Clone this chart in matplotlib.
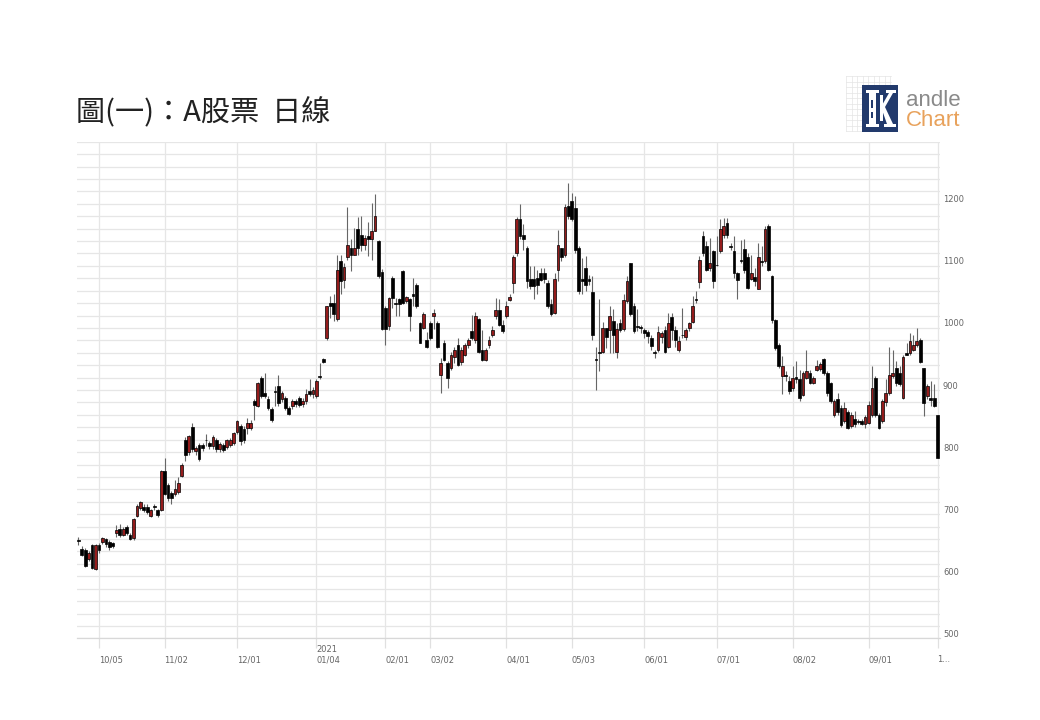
import matplotlib
matplotlib.use("Agg")
import matplotlib.pyplot as plt
import matplotlib.transforms as mtransforms
from matplotlib.patches import Rectangle, Polygon
import numpy as np

# daily OHLC, one value per trading day (2020/09 - 2021/10)
opens = [
    658, 644, 643, 628, 651, 612, 650, 655, 660, 656,
    653, 669, 676, 667, 679, 667, 661, 697, 710, 712,
    711, 697, 713, 706, 707, 769, 747, 734, 733, 735,
    762, 819, 801, 840, 802, 811, 812, 820, 815, 810,
    819, 805, 812, 808, 812, 814, 833, 842, 838, 839,
    839, 882, 874, 919, 895, 886, 869, 898, 906, 885,
    887, 871, 874, 882, 887, 877, 882, 898, 894, 890,
    922, 950, 984, 1040, 1040, 1014, 1108, 1078, 1114, 1129,
    1118, 1159, 1150, 1134, 1148, 1143, 1156, 1140, 1090, 1032,
    1003, 1081, 1040, 1046, 1091, 1044, 1046, 1054, 1070, 1008,
    1000, 981, 1008, 1019, 1008, 925, 976, 944, 936, 954,
    973, 945, 957, 972, 995, 981, 1014, 965, 949, 973,
    989, 1019, 1029, 1004, 1019, 1045, 1072, 1120, 1175, 1149,
    1129, 1079, 1079, 1081, 1088, 1089, 1073, 1039, 1024, 1094,
    1129, 1118, 1197, 1204, 1194, 1129, 1079, 1097, 1079, 1058,
    950, 962, 962, 1000, 996, 1012, 962, 1008, 998, 1043,
    1104, 1035, 1003, 1000, 997, 993, 984, 962, 965, 985,
    996, 970, 1018, 997, 964, 988, 985, 1000, 1009, 1045,
    1074, 1148, 1132, 1097, 1124, 1102, 1124, 1149, 1169, 1132,
    1124, 1089, 1110, 1127, 1115, 1079, 1082, 1063, 1108, 1108,
    1165, 1083, 1013, 973, 923, 925, 914, 903, 921, 918,
    892, 919, 927, 912, 932, 934, 950, 927, 911, 860,
    885, 871, 850, 864, 842, 853, 850, 850, 846, 847,
    860, 919, 860, 850, 880, 895, 922, 936, 927, 887,
    960, 960, 965, 973, 980, 936, 890, 887, 887, 860,
]
highs = [
    663, 649, 645, 640, 652, 652, 653, 663, 662, 658,
    656, 682, 685, 680, 683, 670, 694, 716, 722, 716,
    717, 708, 716, 709, 771, 790, 750, 738, 755, 760,
    782, 825, 828, 847, 810, 815, 815, 830, 818, 827,
    822, 816, 815, 821, 822, 833, 852, 845, 842, 855,
    852, 885, 913, 923, 927, 890, 872, 906, 924, 898,
    890, 874, 885, 886, 890, 888, 902, 917, 905, 917,
    944, 952, 1036, 1051, 1054, 1118, 1118, 1105, 1195, 1143,
    1161, 1178, 1180, 1150, 1170, 1202, 1215, 1142, 1095, 1035,
    1050, 1083, 1048, 1048, 1094, 1052, 1048, 1081, 1072, 1010,
    1025, 994, 1011, 1030, 1011, 952, 981, 946, 962, 970,
    984, 970, 975, 984, 1021, 1025, 1016, 997, 968, 987,
    1003, 1048, 1046, 1013, 1043, 1054, 1118, 1178, 1199, 1167,
    1132, 1099, 1099, 1094, 1097, 1097, 1078, 1046, 1089, 1158,
    1129, 1199, 1234, 1218, 1212, 1132, 1113, 1116, 1085, 1083,
    970, 1046, 1010, 1000, 1035, 1030, 1008, 1015, 1054, 1083,
    1105, 1040, 1030, 1005, 1000, 997, 989, 965, 1003, 995,
    1003, 1024, 1024, 1003, 987, 1032, 1000, 1010, 1051, 1060,
    1116, 1156, 1140, 1145, 1126, 1148, 1175, 1177, 1177, 1137,
    1148, 1090, 1142, 1143, 1121, 1118, 1097, 1137, 1132, 1164,
    1168, 1086, 1014, 976, 955, 930, 922, 938, 946, 933,
    930, 965, 933, 922, 949, 945, 952, 930, 913, 885,
    895, 876, 881, 868, 865, 867, 853, 853, 860, 882,
    938, 922, 863, 885, 917, 970, 965, 946, 938, 957,
    976, 992, 988, 1000, 984, 936, 909, 914, 909, 860,
]
lows = [
    651, 632, 615, 625, 611, 610, 638, 652, 648, 643,
    645, 664, 663, 665, 667, 658, 659, 695, 707, 704,
    700, 695, 707, 696, 705, 731, 722, 717, 730, 733,
    760, 785, 796, 800, 795, 785, 802, 810, 805, 805,
    800, 800, 801, 805, 809, 811, 830, 812, 815, 830,
    835, 852, 872, 888, 888, 868, 848, 874, 874, 880,
    868, 860, 870, 872, 872, 873, 878, 890, 888, 888,
    917, 943, 981, 1016, 1011, 1011, 1054, 1065, 1110, 1091,
    1118, 1118, 1124, 1125, 1116, 1110, 1156, 1080, 996, 973,
    997, 1032, 1019, 1019, 1038, 1040, 995, 1035, 1032, 976,
    998, 968, 981, 998, 968, 895, 946, 903, 933, 943,
    938, 941, 955, 968, 981, 976, 960, 946, 946, 968,
    986, 1014, 1003, 992, 1016, 1043, 1057, 1116, 1143, 1126,
    1065, 1062, 1046, 1054, 1075, 1073, 1032, 1019, 1022, 1075,
    1108, 1115, 1175, 1172, 1121, 1054, 1054, 1060, 1070, 981,
    900, 930, 960, 968, 960, 960, 952, 993, 995, 1040,
    1019, 992, 995, 992, 984, 976, 965, 952, 962, 975,
    960, 968, 981, 970, 962, 984, 981, 995, 1008, 1040,
    1065, 1116, 1091, 1091, 1065, 1099, 1121, 1145, 1145, 1126,
    1081, 1046, 1104, 1089, 1062, 1078, 1067, 1062, 1100, 1105,
    1091, 1008, 965, 935, 893, 915, 893, 899, 911, 882,
    890, 917, 910, 910, 930, 930, 925, 890, 879, 857,
    860, 841, 847, 837, 839, 840, 846, 843, 839, 846,
    857, 857, 837, 847, 874, 892, 920, 906, 906, 885,
    957, 957, 963, 970, 944, 858, 885, 875, 872, 790,
]
closes = [
    657, 635, 617, 637, 613, 650, 643, 661, 652, 648,
    649, 675, 667, 677, 669, 660, 693, 714, 720, 706,
    704, 706, 712, 699, 769, 733, 726, 726, 740, 750,
    780, 796, 826, 805, 806, 789, 807, 819, 810, 825,
    805, 813, 804, 819, 820, 831, 850, 818, 820, 847,
    847, 876, 911, 891, 890, 871, 852, 897, 879, 895,
    871, 862, 882, 877, 876, 882, 894, 894, 900, 914,
    921, 945, 1035, 1035, 1022, 1094, 1075, 1098, 1134, 1118,
    1129, 1129, 1134, 1145, 1143, 1156, 1180, 1083, 999, 999,
    1048, 1048, 1038, 1039, 1040, 1050, 1019, 1052, 1035, 976,
    1023, 970, 984, 1024, 970, 944, 949, 920, 957, 965,
    941, 964, 972, 980, 984, 1019, 962, 949, 965, 980,
    996, 1029, 1004, 995, 1035, 1050, 1115, 1175, 1148, 1144,
    1075, 1068, 1068, 1070, 1078, 1079, 1035, 1023, 1079, 1134,
    1115, 1195, 1180, 1175, 1125, 1059, 1075, 1070, 1075, 989,
    948, 960, 1000, 985, 1019, 989, 998, 997, 1045, 1075,
    1023, 995, 1001, 1000, 992, 987, 971, 959, 993, 992,
    962, 1008, 997, 981, 979, 988, 997, 1008, 1035, 1045,
    1109, 1121, 1094, 1105, 1075, 1101, 1160, 1164, 1149, 1131,
    1089, 1078, 1108, 1094, 1065, 1088, 1075, 1115, 1107, 1160,
    1094, 1013, 968, 938, 938, 922, 898, 919, 917, 887,
    927, 930, 912, 919, 938, 942, 927, 895, 882, 882,
    864, 844, 871, 839, 860, 846, 849, 846, 856, 876,
    903, 860, 839, 882, 895, 925, 927, 911, 909, 954,
    957, 979, 972, 979, 945, 879, 906, 884, 874, 790,
]

# x-axis ticks (candle index of the first trading day shown for each month)
tick_pos = [6, 25, 46, 69, 89, 102, 124, 143, 164, 185, 207, 229, 249]
tick_labels = ["10/05", "11/02", "12/01", "01/04", "02/01", "03/02", "04/01",
               "05/03", "06/01", "07/01", "08/02", "09/01", "1..."]
year_label = "2021"
year_tick = 69
y_labels = [500, 600, 700, 800, 900, 1000, 1100, 1200]

title = "圖(一)：A股票  日線"

W, H = 1040, 720


def P(x, y):
    # pixel position -> figure fraction
    return x / W, 1 - y / H


def draw_logo(fig):
    # faint grid behind the logo
    for gx in np.arange(846, 891, 5.5):
        fig.add_artist(plt.Line2D([gx / W, gx / W], [1 - 76 / H, 1 - 131 / H],
                                  transform=fig.transFigure, color="#e4e4e4", lw=0.5, zorder=1))
    for gy in np.arange(76, 132, 5.5):
        fig.add_artist(plt.Line2D([846 / W, 891 / W], [1 - gy / H, 1 - gy / H],
                                  transform=fig.transFigure, color="#e4e4e4", lw=0.5, zorder=1))

    navy = "#223a6c"
    fig.add_artist(Rectangle(P(862, 132), 36 / W, 47 / H, transform=fig.transFigure,
                             facecolor=navy, edgecolor="none", zorder=5))
    # white K: stem with serifs and two arms
    kw = dict(closed=True, transform=fig.transFigure, facecolor="white", edgecolor="none", zorder=6)
    fig.add_artist(Polygon([P(866, 90), P(879, 90), P(879, 93), P(876, 93), P(876, 124),
                            P(879, 124), P(879, 127), P(866, 127), P(866, 124), P(869, 124),
                            P(869, 93), P(866, 93)], **kw))
    fig.add_artist(Polygon([P(881, 107), P(889, 93), P(886, 93), P(886, 90), P(896, 90),
                            P(896, 93), P(893, 93), P(885, 107)], **kw))
    fig.add_artist(Polygon([P(881, 107), P(885, 107), P(893, 124), P(896, 124), P(896, 127),
                            P(884, 127), P(884, 124), P(887, 124)], **kw))
    fig.add_artist(Rectangle(P(880, 121), 3 / W, 26 / H, transform=fig.transFigure,
                             facecolor="white", edgecolor="none", zorder=6))
    # tiny candles inside the K
    for cx, top, bot in [(872, 100, 108), (872, 112, 118)]:
        fig.add_artist(Rectangle(P(cx - 1, bot), 2 / W, (bot - top) / H, transform=fig.transFigure,
                                 facecolor=navy, edgecolor="none", zorder=7))

    fig.text(906 / W, 1 - 105.5 / H, "andle", fontsize=16, color="#8a8a8a",
             family="Liberation Sans", ha="left", va="baseline")
    fig.text(906 / W, 1 - 125.5 / H, "Chart", fontsize=16, color="#e8a25c",
             family="Liberation Sans", ha="left", va="baseline")


def main():
    o = np.array(opens, dtype=float)
    h = np.array(highs, dtype=float)
    l = np.array(lows, dtype=float)
    c = np.array(closes, dtype=float)
    x = np.arange(len(o))

    fig = plt.figure(figsize=(W / 100, H / 100), dpi=100)
    ax = fig.add_axes([77 / W, 1 - 638.4 / H, 863 / W, 496.7 / H])

    # grid
    for v in range(500, 1301, 20):
        ax.axhline(v, color="#e6e6e6", lw=0.9, zorder=0)
    for t in tick_pos:
        ax.axvline(t, color="#e6e6e6", lw=0.9, zorder=0)

    # candles
    up = c > o
    down = ~up
    width = 0.8
    ax.vlines(x, l, h, color="#666666", lw=0.8, zorder=2)
    body_lo = np.minimum(o, c)
    body_h = np.maximum(np.abs(c - o), 0.9)
    ax.bar(x[up], body_h[up], bottom=body_lo[up], width=width, color="#951c1c",
           edgecolor="black", linewidth=0.5, zorder=3)
    ax.bar(x[down], body_h[down], bottom=body_lo[down], width=width, color="black",
           edgecolor="black", linewidth=0.5, zorder=3)

    ax.set_xlim(-0.38, 249.7)
    ax.set_ylim(500, 1300)

    for s in ["top", "right", "left"]:
        ax.spines[s].set_visible(False)
    ax.spines["bottom"].set_color("#d8d8d8")
    ax.spines["bottom"].set_linewidth(0.9)

    ax.set_yticks([])
    ax.set_xticks(tick_pos)
    ax.set_xticklabels([])
    ax.tick_params(axis="x", length=7, color="#e0e0e0", width=0.9)

    # x labels, left aligned on their tick
    xtrans = mtransforms.blended_transform_factory(ax.transData, ax.transAxes)
    for t, lab in zip(tick_pos, tick_labels):
        ax.text(t, -21.6 / 496.7, lab, transform=xtrans, ha="left", va="center",
                fontsize=6, color="#666666")
    ax.text(year_tick, -10.8 / 496.7, year_label, transform=xtrans, ha="left", va="center",
            fontsize=6, color="#666666")

    # y labels on the right, sitting just above their grid line
    ytrans = mtransforms.blended_transform_factory(ax.transAxes, ax.transData)
    ytrans = mtransforms.offset_copy(ytrans, fig=fig, x=0, y=4, units="dots")
    for v in y_labels:
        ax.text(1 + 3 / 863, v, str(v), transform=ytrans, ha="left", va="center",
                fontsize=6, color="#666666")

    fig.text(76 / W, 1 - 112 / H, title, fontsize=21, color="#222222",
             family=["Noto Sans CJK TC", "DejaVu Sans"], ha="left", va="center")

    draw_logo(fig)

    fig.savefig("out.png", dpi=100, facecolor="white")


if __name__ == "__main__":
    main()
